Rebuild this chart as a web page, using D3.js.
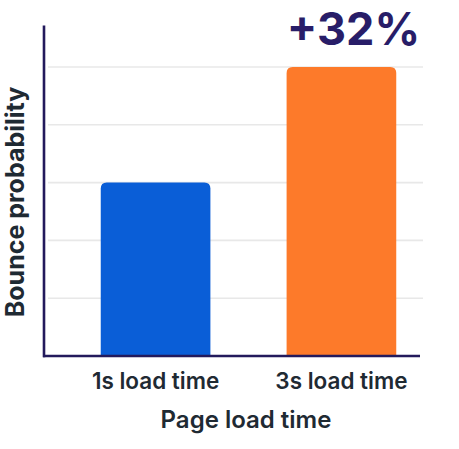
<!DOCTYPE html>
<html>
<head>
<meta charset="utf-8">
<script src="https://cdn.jsdelivr.net/npm/d3@7"></script>
<style>
  body { margin: 0; background: #fff; }
  svg { display: block; }
</style>
</head>
<body>
<div id="chart"></div>
<script>
const width = 459;
const height = 449;

// data
const categories = ["1s load time", "3s load time"];
const values = [3, 5];
const colors = ["#0a5ed7", "#fd7a2a"];
const gridTicks = [1, 2, 3, 4, 5];
const annotation = "+32%";

const svg = d3.select("#chart")
  .append("svg")
  .attr("width", width)
  .attr("height", height);

const x = d3.scaleBand()
  .domain(categories)
  .range([45, 452])
  .paddingInner(0.41)
  .paddingOuter(0.3);

const y = d3.scaleLinear()
  .domain([0, 6])
  .range([356, 9.2]);

// grid lines
svg.append("g")
  .selectAll("line")
  .data(gridTicks)
  .enter()
  .append("line")
  .attr("x1", 48)
  .attr("x2", 423)
  .attr("y1", d => y(d))
  .attr("y2", d => y(d))
  .attr("stroke", "#e8e8e8")
  .attr("stroke-width", 1.6);

// bars with rounded top corners
function barPath(x0, y0, w, h, r) {
  return `M${x0},${y0 + h} V${y0 + r} Q${x0},${y0} ${x0 + r},${y0} H${x0 + w - r} Q${x0 + w},${y0} ${x0 + w},${y0 + r} V${y0 + h} Z`;
}

svg.append("g")
  .selectAll("path")
  .data(categories)
  .enter()
  .append("path")
  .attr("d", (d, i) => barPath(x(d), y(values[i]), x.bandwidth(), y(0) - y(values[i]), 6))
  .attr("fill", (d, i) => colors[i]);

// axes
svg.append("line")
  .attr("x1", 44).attr("x2", 44)
  .attr("y1", y(5.72)).attr("y2", y(0) + 1.2)
  .attr("stroke", "#231a5c")
  .attr("stroke-width", 2.6);

svg.append("line")
  .attr("x1", 43).attr("x2", 420)
  .attr("y1", y(0)).attr("y2", y(0))
  .attr("stroke", "#231a5c")
  .attr("stroke-width", 2.6);

// category labels
svg.append("g")
  .selectAll("text")
  .data(categories)
  .enter()
  .append("text")
  .attr("x", d => x(d) + x.bandwidth() / 2)
  .attr("y", 389)
  .attr("text-anchor", "middle")
  .attr("font-family", "Inter, 'Noto Sans', sans-serif")
  .attr("font-weight", 600)
  .attr("font-size", 22.5)
  .attr("fill", "#1f2a33")
  .text(d => d);

// axis titles
svg.append("text")
  .attr("x", 246)
  .attr("y", 428)
  .attr("text-anchor", "middle")
  .attr("font-family", "Inter, 'Noto Sans', sans-serif")
  .attr("font-weight", 600)
  .attr("font-size", 24)
  .attr("fill", "#1f2a33")
  .text("Page load time");

svg.append("text")
  .attr("transform", "translate(24,202) rotate(-90)")
  .attr("text-anchor", "middle")
  .attr("font-family", "Inter, 'Noto Sans', sans-serif")
  .attr("font-weight", 700)
  .attr("font-size", 25)
  .attr("fill", "#1f2a33")
  .text("Bounce probability");

// annotation
svg.append("text")
  .attr("x", x(categories[1]) + x.bandwidth() / 2 + 12)
  .attr("y", 45)
  .attr("text-anchor", "middle")
  .attr("font-family", "Inter, 'Liberation Sans', sans-serif")
  .attr("font-weight", 700)
  .attr("font-size", 45)
  .attr("fill", "#281d68")
  .text(annotation);
</script>
</body>
</html>
